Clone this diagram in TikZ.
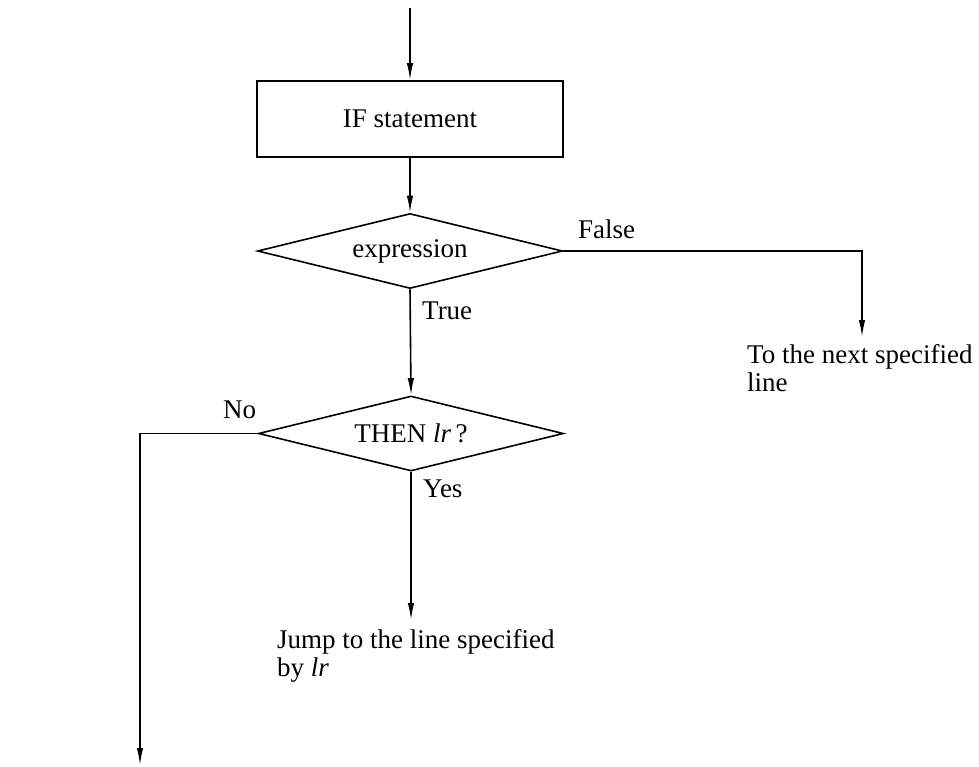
\documentclass[tikz,border=0pt]{standalone}
\usepackage{fontspec}
\setmainfont{Liberation Serif}
\usetikzlibrary{shapes.geometric,arrows.meta}
\begin{document}
\begin{tikzpicture}[x=1pt,y=-1pt,
  every node/.style={font=\fontsize{27}{28}\selectfont},
  flow/.style={line width=1.6pt,-{Latex[length=17pt,width=6.5pt]}},
  box/.style={draw,line width=1.6pt,minimum width=306pt,minimum height=76pt,inner sep=0pt},
  decision/.style={draw,diamond,aspect=4,line width=1.6pt,minimum width=305pt,minimum height=75pt,inner sep=0pt},
  lbl/.style={inner sep=0pt,anchor=base west}]
\useasboundingbox (0,0) rectangle (979,766);
\coordinate (start) at (410,8);
\node[box] (ifs) at (410,119) {IF statement};
\node[decision] (expr) at (410,251) {expression};
\node[decision] (then) at (411,433.5) {THEN \textit{lr}\,?};
\coordinate (fcorner) at (862,251);
\coordinate (fend) at (862,337);
\coordinate (ncorner) at (140,433.5);
\coordinate (nend) at (140,765);
\coordinate (yend) at (411,620);
\node[inner sep=0pt,anchor=north west,align=left] (next) at (747,344) {To the next specified\\line};
\node[inner sep=0pt,anchor=north west,align=left] (jump) at (277,629) {Jump to the line specified\\by \textit{lr}};
\node[lbl] (false) at (578,238) {False};
\node[lbl] (true) at (422,319) {True};
\node[lbl] (no) at (223,418) {No};
\node[lbl] (yes) at (423,497) {Yes};
\draw[flow] (start) -- (ifs.north);
\draw[flow] (ifs.south) -- (expr.north);
\draw[flow] (expr.south) -- (then.north);
\draw[flow] (expr.east) -- (fcorner) -- (fend);
\draw[flow] (then.west) -- (ncorner) -- (nend);
\draw[flow] (then.south) -- (yend);
\end{tikzpicture}
\end{document}
